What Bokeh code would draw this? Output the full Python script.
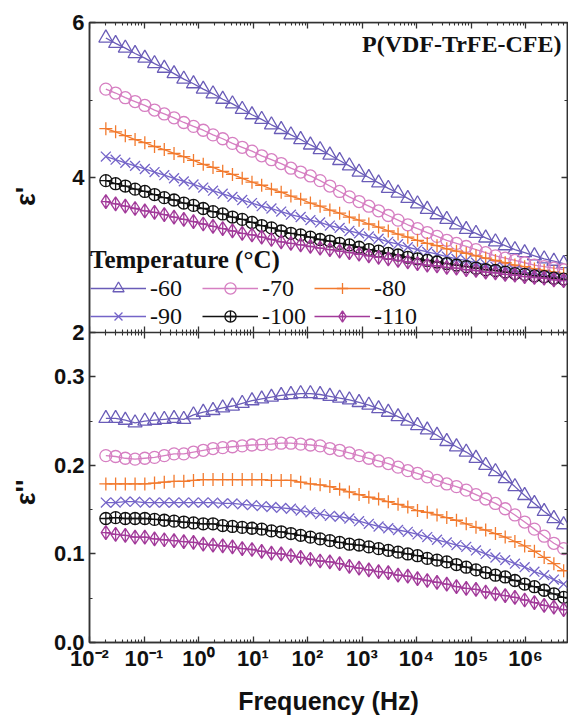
import math
from bokeh.plotting import figure
from bokeh.layouts import row
from bokeh.core.properties import value
from bokeh.models import (Range1d, LinearAxis, LogAxis, FixedTicker,
                          CustomJSTickFormatter, Legend, LegendItem, Label)
from bokeh.embed import file_html
from bokeh.resources import INLINE

# ---------------- data ----------------
LOG_FREQ = [-1.700, -1.521, -1.343, -1.164, -0.985, -0.807, -0.628, -0.449, -0.270, -0.092,
            0.087, 0.266, 0.444, 0.623, 0.802, 0.981, 1.159, 1.338, 1.517, 1.695,
            1.874, 2.053, 2.231, 2.410, 2.589, 2.768, 2.946, 3.125, 3.304, 3.482,
            3.661, 3.840, 4.018, 4.197, 4.376, 4.555, 4.733, 4.912, 5.091, 5.269,
            5.448, 5.627, 5.805, 5.984, 6.163, 6.342, 6.520, 6.699]

TEMPERATURES = ["-60", "-70", "-80", "-90", "-100", "-110"]

EPS1_M60 = [5.80, 5.73, 5.67, 5.60, 5.54, 5.47, 5.41, 5.34, 5.27, 5.21, 5.14, 5.08, 5.01, 4.95, 4.88, 4.81,
            4.75, 4.68, 4.62, 4.55, 4.49, 4.42, 4.36, 4.29, 4.22, 4.15, 4.07, 4.00, 3.93, 3.86, 3.80, 3.73,
            3.66, 3.59, 3.52, 3.46, 3.39, 3.33, 3.28, 3.22, 3.17, 3.12, 3.07, 3.03, 2.99, 2.95, 2.92, 2.89]
EPS1_M70 = [5.14, 5.09, 5.03, 4.98, 4.93, 4.87, 4.82, 4.77, 4.71, 4.66, 4.61, 4.55, 4.50, 4.44, 4.39, 4.34,
            4.28, 4.23, 4.18, 4.12, 4.07, 4.02, 3.96, 3.89, 3.82, 3.75, 3.69, 3.63, 3.57, 3.51, 3.45, 3.39,
            3.34, 3.29, 3.24, 3.19, 3.15, 3.11, 3.07, 3.03, 2.99, 2.96, 2.93, 2.90, 2.87, 2.85, 2.83, 2.81]
EPS1_M80 = [4.63, 4.59, 4.54, 4.49, 4.45, 4.40, 4.36, 4.31, 4.27, 4.22, 4.17, 4.13, 4.08, 4.04, 3.99, 3.94,
            3.90, 3.85, 3.81, 3.76, 3.72, 3.67, 3.63, 3.58, 3.54, 3.49, 3.45, 3.40, 3.36, 3.31, 3.27, 3.23,
            3.19, 3.15, 3.12, 3.08, 3.05, 3.02, 2.99, 2.96, 2.93, 2.90, 2.87, 2.85, 2.82, 2.80, 2.78, 2.76]
EPS1_M90 = [4.27, 4.23, 4.19, 4.15, 4.11, 4.07, 4.03, 3.99, 3.95, 3.91, 3.87, 3.83, 3.79, 3.75, 3.71, 3.67,
            3.63, 3.60, 3.56, 3.52, 3.49, 3.45, 3.42, 3.38, 3.35, 3.31, 3.28, 3.24, 3.21, 3.17, 3.14, 3.10,
            3.07, 3.04, 3.01, 2.98, 2.95, 2.93, 2.90, 2.88, 2.85, 2.83, 2.80, 2.78, 2.76, 2.74, 2.72, 2.70]
EPS1_M100 = [3.96, 3.92, 3.89, 3.85, 3.82, 3.78, 3.74, 3.71, 3.67, 3.64, 3.60, 3.56, 3.53, 3.49, 3.46, 3.42,
             3.38, 3.35, 3.31, 3.28, 3.26, 3.23, 3.20, 3.18, 3.15, 3.13, 3.10, 3.07, 3.05, 3.02, 3.00, 2.97,
             2.95, 2.93, 2.91, 2.89, 2.87, 2.85, 2.83, 2.81, 2.80, 2.78, 2.76, 2.75, 2.73, 2.72, 2.70, 2.69]
EPS1_M110 = [3.69, 3.66, 3.63, 3.60, 3.57, 3.55, 3.52, 3.49, 3.46, 3.43, 3.40, 3.37, 3.34, 3.31, 3.28, 3.26,
             3.23, 3.20, 3.17, 3.15, 3.13, 3.11, 3.09, 3.07, 3.05, 3.03, 3.01, 2.99, 2.97, 2.95, 2.93, 2.91,
             2.89, 2.87, 2.86, 2.84, 2.83, 2.81, 2.80, 2.78, 2.77, 2.75, 2.74, 2.72, 2.71, 2.70, 2.68, 2.67]

EPS2_M60 = [0.253, 0.253, 0.251, 0.248, 0.250, 0.251, 0.252, 0.253, 0.252, 0.257, 0.260, 0.262, 0.265, 0.267,
            0.270, 0.273, 0.275, 0.277, 0.279, 0.280, 0.281, 0.281, 0.280, 0.278, 0.276, 0.274, 0.271, 0.268,
            0.264, 0.260, 0.255, 0.250, 0.245, 0.240, 0.234, 0.227, 0.221, 0.215, 0.208, 0.200, 0.193, 0.185,
            0.176, 0.166, 0.157, 0.148, 0.140, 0.133]
EPS2_M70 = [0.211, 0.210, 0.208, 0.207, 0.208, 0.209, 0.211, 0.213, 0.213, 0.215, 0.217, 0.219, 0.220, 0.221,
            0.222, 0.223, 0.2235, 0.224, 0.225, 0.225, 0.224, 0.223, 0.222, 0.219, 0.217, 0.214, 0.211, 0.208,
            0.205, 0.202, 0.198, 0.194, 0.191, 0.187, 0.183, 0.179, 0.176, 0.172, 0.167, 0.162, 0.157, 0.151,
            0.144, 0.136, 0.128, 0.120, 0.112, 0.106]
EPS2_M80 = [0.179, 0.179, 0.179, 0.179, 0.179, 0.180, 0.181, 0.182, 0.182, 0.183, 0.184, 0.184, 0.184, 0.184,
            0.184, 0.184, 0.184, 0.183, 0.183, 0.183, 0.181, 0.179, 0.178, 0.176, 0.173, 0.170, 0.167, 0.164,
            0.162, 0.159, 0.156, 0.153, 0.149, 0.147, 0.144, 0.141, 0.138, 0.134, 0.130, 0.127, 0.123, 0.119,
            0.114, 0.109, 0.103, 0.096, 0.089, 0.081]
EPS2_M90 = [0.158, 0.158, 0.159, 0.159, 0.158, 0.158, 0.158, 0.158, 0.158, 0.158, 0.158, 0.158, 0.157, 0.157,
            0.156, 0.155, 0.154, 0.153, 0.152, 0.151, 0.149, 0.147, 0.145, 0.143, 0.142, 0.140, 0.137, 0.134,
            0.131, 0.129, 0.127, 0.125, 0.122, 0.119, 0.116, 0.113, 0.110, 0.108, 0.104, 0.100, 0.096, 0.093,
            0.089, 0.085, 0.080, 0.076, 0.071, 0.066]
EPS2_M100 = [0.140, 0.141, 0.140, 0.140, 0.140, 0.139, 0.138, 0.137, 0.136, 0.135, 0.134, 0.134, 0.132, 0.131,
             0.130, 0.129, 0.128, 0.126, 0.125, 0.123, 0.121, 0.119, 0.117, 0.115, 0.113, 0.111, 0.110, 0.108,
             0.106, 0.104, 0.102, 0.100, 0.098, 0.095, 0.093, 0.091, 0.088, 0.085, 0.082, 0.079, 0.076, 0.074,
             0.070, 0.066, 0.063, 0.059, 0.055, 0.051]
EPS2_M110 = [0.124, 0.122, 0.121, 0.119, 0.119, 0.117, 0.116, 0.115, 0.114, 0.113, 0.111, 0.110, 0.109, 0.108,
             0.106, 0.105, 0.103, 0.101, 0.100, 0.098, 0.096, 0.094, 0.092, 0.091, 0.089, 0.086, 0.084, 0.082,
             0.080, 0.079, 0.076, 0.075, 0.072, 0.070, 0.068, 0.066, 0.063, 0.061, 0.060, 0.057, 0.055, 0.053,
             0.051, 0.048, 0.045, 0.042, 0.040, 0.037]

X_TICK_VALUES = [1e-2, 1e-1, 1e0, 1e1, 1e2, 1e3, 1e4, 1e5, 1e6]
X_TICK_LABELS = ["10\u207b\u00b2", "10\u207b\u00b9", "10\u2070", "10\u00b9", "10\u00b2",
                 "10\u00b3", "10\u2074", "10\u2075", "10\u2076"]
Y1_TICKS = [2, 4, 6]
Y1_TICK_LABELS = ["2", "4", "6"]
Y1_MINOR = [3, 5]
Y2_TICKS = [0.0, 0.1, 0.2, 0.3]
Y2_TICK_LABELS = ["0.0", "0.1", "0.2", "0.3"]
Y2_MINOR = [0.05, 0.15, 0.25]
Y_TITLES = ["\u03b5'", "\u03b5''"]

EPS1 = [EPS1_M60, EPS1_M70, EPS1_M80, EPS1_M90, EPS1_M100, EPS1_M110]
EPS2 = [EPS2_M60, EPS2_M70, EPS2_M80, EPS2_M90, EPS2_M100, EPS2_M110]

# ---------------- styles ----------------
COLORS = ["#6a5cb8", "#d67fc2", "#f27a2e", "#7464c8", "#111111", "#a23a9a"]
MARKERS = ["triangle", "circle", "cross", "x", "circle_cross", "diamond_cross"]
SIZES = [14, 12, 13, 14, 12, 14]
AX = "#333333"
SANS = "Liberation Sans"
SERIF = "Liberation Serif"

FREQ = [10 ** v for v in LOG_FREQ]
X_MIN, X_MAX = 1e-2, 10 ** 6.77
X_MINOR = [m * 10.0 ** k for k in range(-2, 7) for m in range(2, 10)]
MAIN_HI = 0.70               # bottom panel uses 0..0.35 of the main range
TOP_LO, TOP_HI = -2.0, 6.0   # top panel uses 2..6 of this range
TITLE_W = 46                 # width of the strip holding the y titles
H = 720
B_TOP, B_BOT = 22, 78        # frame borders (px)


def top_to_main(v):
    return (v - TOP_LO) / (TOP_HI - TOP_LO) * MAIN_HI


p = figure(width=568 - TITLE_W, height=H, x_axis_type="log",
           x_range=Range1d(X_MIN, X_MAX), y_range=Range1d(0, MAIN_HI),
           toolbar_location=None, output_backend="svg",
           min_border_left=89 - TITLE_W, min_border_right=1,
           min_border_top=B_TOP, min_border_bottom=B_BOT)
p.extra_y_ranges = {"top": Range1d(TOP_LO, TOP_HI)}
p.xgrid.visible = False
p.ygrid.visible = False
p.outline_line_color = AX
p.outline_line_width = 1.5


def style_axis(ax, tin=6, tout=0, min_in=3, min_out=0, hide=False, size="22px"):
    ax.axis_line_color = AX
    ax.axis_line_width = 1.5
    ax.major_tick_line_color = AX
    ax.minor_tick_line_color = AX
    ax.major_tick_line_width = 1.3
    ax.minor_tick_line_width = 1.1
    ax.major_tick_in = tin
    ax.major_tick_out = tout
    ax.minor_tick_in = min_in
    ax.minor_tick_out = min_out
    ax.major_label_text_font = SANS
    ax.major_label_text_font_style = "bold"
    ax.major_label_text_color = "#111111"
    ax.major_label_text_font_size = size
    ax.axis_label_text_font = SANS
    ax.axis_label_text_font_style = "bold"
    ax.axis_label_text_color = "#111111"
    if hide:
        ax.major_label_text_alpha = 0
        ax.major_label_text_font_size = "1px"


x_formatter = CustomJSTickFormatter(args=dict(tvals=X_TICK_VALUES, tlabs=X_TICK_LABELS), code="""
let best = 0, bd = Infinity;
for (let i = 0; i < tvals.length; i++) {
  const d = Math.abs(Math.log10(tick) - Math.log10(tvals[i]));
  if (d < bd) { bd = d; best = i; }
}
return bd < 0.01 ? tlabs[best] : "";
""")

# main x axis (bottom)
xb = p.xaxis[0]
xb.ticker = FixedTicker(ticks=X_TICK_VALUES, minor_ticks=X_MINOR)
xb.formatter = x_formatter
style_axis(xb)
xb.major_label_standoff = 3
xb.axis_label = "Frequency (Hz)"
xb.axis_label_text_font_size = "25px"
xb.axis_label_standoff = 13

# top border axis
xt = LogAxis(fixed_location=MAIN_HI, ticker=FixedTicker(ticks=X_TICK_VALUES, minor_ticks=X_MINOR))
style_axis(xt, hide=True)
p.add_layout(xt, "above")

# shared middle axis
xm = LogAxis(fixed_location=top_to_main(2), ticker=FixedTicker(ticks=X_TICK_VALUES, minor_ticks=X_MINOR))
style_axis(xm, tin=6, tout=6, min_in=3, min_out=3, hide=True)
p.add_layout(xm, "below")

# one left axis carrying both panels' ticks
left_vals = list(Y2_TICKS) + [top_to_main(v) for v in Y1_TICKS]
left_labs = list(Y2_TICK_LABELS) + list(Y1_TICK_LABELS)
left_minor = list(Y2_MINOR) + [top_to_main(v) for v in Y1_MINOR]
yl = p.yaxis[0]
yl.ticker = FixedTicker(ticks=left_vals, minor_ticks=left_minor)
yl.formatter = CustomJSTickFormatter(args=dict(tvals=left_vals, tlabs=left_labs), code="""
for (let i = 0; i < tvals.length; i++) {
  if (Math.abs(tick - tvals[i]) < 1e-6) { return tlabs[i]; }
}
return "";
""")
style_axis(yl)
yl.major_label_standoff = 5

# right axes
yr_top = LinearAxis(y_range_name="top", fixed_location=X_MAX, bounds=(2, 6),
                    ticker=FixedTicker(ticks=Y1_TICKS, minor_ticks=Y1_MINOR))
style_axis(yr_top, hide=True)
p.add_layout(yr_top, "right")
yr_bot = LinearAxis(fixed_location=X_MAX, bounds=(0, 0.35),
                    ticker=FixedTicker(ticks=Y2_TICKS, minor_ticks=Y2_MINOR))
style_axis(yr_bot, hide=True)
p.add_layout(yr_bot, "right")

items = []
for t, e1, e2, c, m, s in zip(TEMPERATURES, EPS1, EPS2, COLORS, MARKERS, SIZES):
    l1 = p.line(FREQ, e1, line_color=c, line_width=1.3, y_range_name="top")
    s1 = p.scatter(FREQ, e1, marker=m, size=s, line_color=c, fill_color=None,
                   line_width=1.3, y_range_name="top")
    p.line(FREQ, e2, line_color=c, line_width=1.3)
    p.scatter(FREQ, e2, marker=m, size=s, line_color=c, fill_color=None, line_width=1.3)
    items.append(LegendItem(label=t, renderers=[l1, s1]))

legend = Legend(items=items, location=(1, 312), orientation="horizontal", ncols=3,
                title="Temperature (\u00b0C)", title_text_font=SERIF, title_text_font_style="bold",
                title_text_font_size="25px", title_text_color="#111111", title_standoff=0,
                label_text_font=SERIF, label_text_font_size="24px", label_text_color="#111111",
                glyph_width=56, glyph_height=28, label_height=28, label_width=52, label_standoff=4,
                spacing=0, padding=0, margin=0,
                background_fill_alpha=0, border_line_alpha=0)
p.add_layout(legend)

p.add_layout(Label(x=472, y=599, x_units="screen", y_units="screen", text="P(VDF-TrFE-CFE)",
                   text_align="right", text_baseline="middle", text_font=SERIF,
                   text_font_style="bold", text_font_size="24px", text_color="#111111"))

# strip on the left carrying the two rotated y titles; in a row its frame is aligned
# with the main frame, so its y range is expressed in pixels measured from the bottom
pt = figure(width=TITLE_W, height=H, x_range=Range1d(0, TITLE_W), y_range=Range1d(B_BOT, H - B_TOP),
            x_axis_location=None, y_axis_location=None, toolbar_location=None,
            output_backend="svg", min_border_left=0, min_border_right=0,
            min_border_top=B_TOP, min_border_bottom=B_BOT, outline_line_color=None)
pt.xgrid.visible = False
pt.ygrid.visible = False
pt.text(x=[25, 25], y=[H - 196, H - 492], text=Y_TITLES, angle=math.pi / 2,
        text_align="center", text_baseline="middle", text_font=value(SANS),
        text_font_style="bold", text_font_size="27px", text_color="#111111")

layout = row(pt, p, spacing=0)
open("out.html", "w").write(file_html(layout, INLINE))
